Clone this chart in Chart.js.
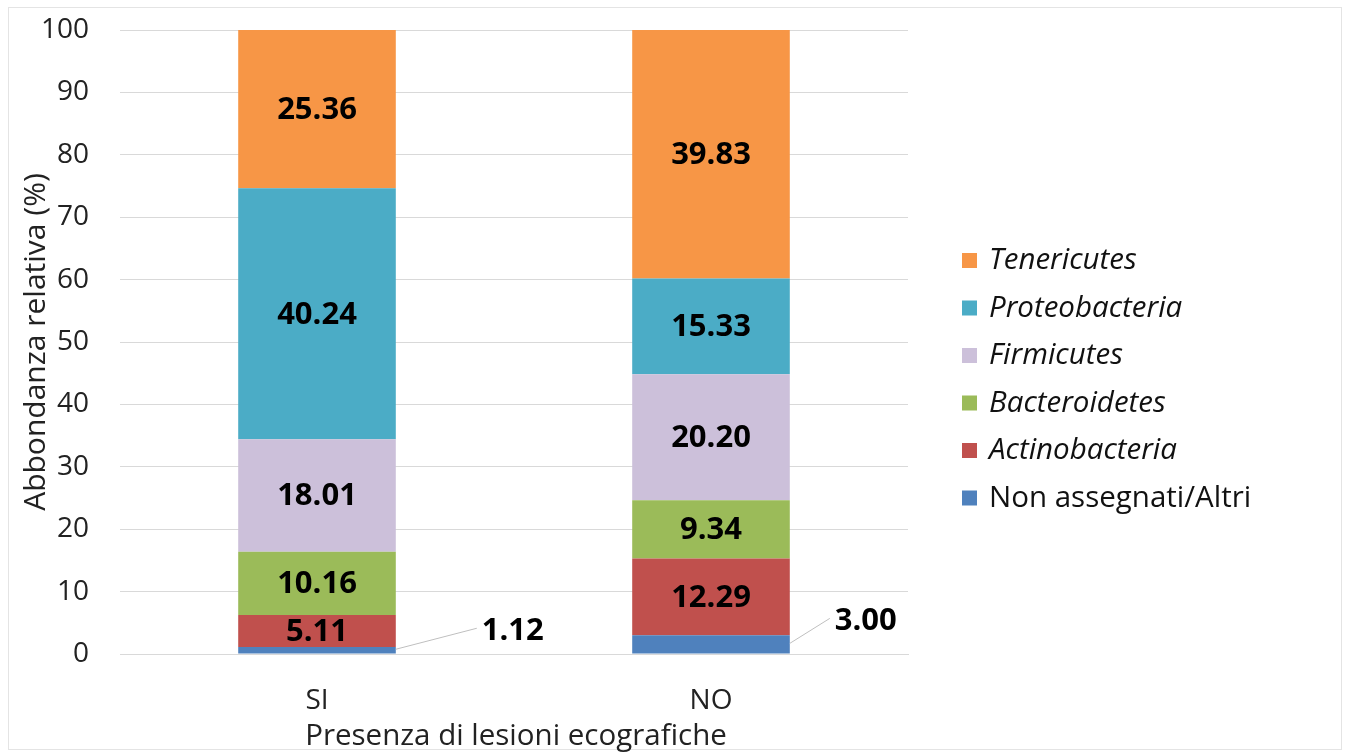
<!DOCTYPE html>
<html>
<head>
<meta charset="utf-8">
<script src="https://cdn.jsdelivr.net/npm/chart.js@4/dist/chart.umd.min.js"></script>
<style>
  html, body { margin: 0; padding: 0; background: #fff; }
  #wrap { width: 1345px; height: 755px; }
</style>
</head>
<body>
<div id="wrap"><canvas id="chart" width="1345" height="755"></canvas></div>
<script>
// --- data
const categories = ["SI", "NO"];
const seriesNames = ["Non assegnati/Altri", "Actinobacteria", "Bacteroidetes", "Firmicutes", "Proteobacteria", "Tenericutes"];
const nonAssegnati = [1.12, 3.00];
const actinobacteria = [5.11, 12.29];
const bacteroidetes = [10.16, 9.34];
const firmicutes = [18.01, 20.20];
const proteobacteria = [40.24, 15.33];
const tenericutes = [25.36, 39.83];
const yTicks = [0, 10, 20, 30, 40, 50, 60, 70, 80, 90, 100];
const xTitle = "Presenza di lesioni ecografiche";

const colors = ["#4F81BD", "#C0504D", "#9BBB59", "#CCC0DA", "#4BACC6", "#F79646"];
const FONT = "'Open Sans', 'Noto Sans', sans-serif";

// small-segment labels placed outside the bar, with a leader line
const calloutDx = [86, 45];
const calloutDy = [-19, -23];

const seriesValues = [nonAssegnati, actinobacteria, bacteroidetes, firmicutes, proteobacteria, tenericutes];
const datasets = seriesNames.map((name, i) => ({
  label: name,
  data: seriesValues[i],
  backgroundColor: colors[i],
  borderWidth: 0,
  italic: name !== "Non assegnati/Altri",
  callout: i === 0
}));

// frame + data labels + legend + x title
const decor = {
  id: "decor",
  beforeDraw(chart) {
    const ctx = chart.ctx;
    ctx.save();
    ctx.strokeStyle = "#e4e4e4";
    ctx.lineWidth = 1;
    ctx.strokeRect(8.5, 7.5, 1333, 742);
    ctx.restore();
  },
  afterDatasetsDraw(chart) {
    const ctx = chart.ctx;
    ctx.save();
    ctx.font = "bold 31px " + FONT;
    ctx.fillStyle = "#000";
    chart.data.datasets.forEach((ds, di) => {
      const meta = chart.getDatasetMeta(di);
      meta.data.forEach((bar, j) => {
        const txt = ds.data[j].toFixed(2);
        const cy = (bar.y + bar.base) / 2;
        if (ds.callout) {
          const right = bar.x + bar.width / 2;
          const lx = right + calloutDx[j];
          const ly = cy + calloutDy[j];
          ctx.strokeStyle = "#bfbfbf";
          ctx.lineWidth = 1;
          ctx.beginPath();
          ctx.moveTo(right, cy - 1);
          ctx.lineTo(lx - 5, ly - 3);
          ctx.stroke();
          ctx.textAlign = "left";
          ctx.textBaseline = "middle";
          ctx.fillText(txt, lx, ly);
        } else {
          ctx.textAlign = "center";
          ctx.textBaseline = "middle";
          ctx.fillText(txt, bar.x, cy + 1);
        }
      });
    });
    ctx.restore();
  },
  afterDraw(chart) {
    const ctx = chart.ctx;
    const list = chart.data.datasets.slice().reverse();
    ctx.save();
    ctx.textBaseline = "middle";
    ctx.textAlign = "left";
    list.forEach((ds, k) => {
      const y = 260 + k * 47.5;
      ctx.fillStyle = ds.backgroundColor;
      ctx.fillRect(962, y - 7, 15, 15);
      ctx.fillStyle = "#111";
      ctx.font = (ds.italic ? "italic " : "") + "29.5px " + FONT;
      ctx.fillText(ds.label, 989, y + 1);
    });
    // x axis title
    const a = chart.chartArea;
    ctx.fillStyle = "#222";
    ctx.textAlign = "center";
    ctx.textBaseline = "alphabetic";
    ctx.font = "29.5px " + FONT;
    ctx.fillText(xTitle, (a.left + a.right) / 2 + 2, 745);
    ctx.restore();
  }
};

new Chart(document.getElementById("chart"), {
  type: "bar",
  data: { labels: categories, datasets },
  plugins: [decor],
  options: {
    responsive: false,
    animation: false,
    layout: { padding: { left: 18, right: 437, top: 30, bottom: 0 } },
    datasets: { bar: { categoryPercentage: 1, barPercentage: 0.4 } },
    plugins: { legend: { display: false }, tooltip: { enabled: false } },
    scales: {
      x: {
        stacked: true,
        grid: { display: false },
        border: { display: true, color: "#d9d9d9" },
        ticks: { color: "#222", padding: 22, font: { family: FONT, size: 28 } },
        afterFit: s => { s.height = 101; s.paddingLeft = 0; s.paddingRight = 0; }
      },
      y: {
        stacked: true,
        min: 0,
        max: 100,
        afterBuildTicks: s => { s.ticks = yTicks.map(v => ({ value: v })); },
        grid: { color: "#d9d9d9", drawTicks: false },
        border: { display: false },
        ticks: { color: "#222", padding: 31, font: { family: FONT, size: 28 } },
        title: {
          display: true,
          text: "Abbondanza relativa (%)",
          color: "#222",
          padding: { top: 0, bottom: 0 },
          font: { family: FONT, size: 30 }
        },
        afterFit: s => { s.width = 102; s.paddingTop = 0; s.paddingBottom = 0; }
      }
    }
  }
});
</script>
</body>
</html>
